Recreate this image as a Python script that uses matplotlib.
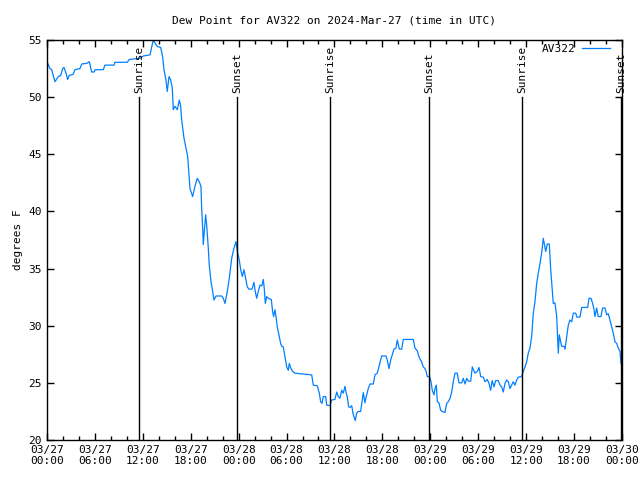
import matplotlib
matplotlib.use("Agg")
import matplotlib.pyplot as plt
import matplotlib.dates as mdates
import numpy as np
import pandas as pd

# hours after 2024-03-27 00:00 UTC
hours = [0.0, 0.38, 0.59, 1.0, 1.42, 1.72, 1.97, 2.13, 2.38, 2.59, 2.79, 3.29, 3.51, 4.13, 4.35, 4.97,
         5.3, 5.6, 5.89, 6.01, 7.05, 7.26, 8.39, 8.52, 10.06, 10.31, 11.65, 12.06, 12.9, 13.31, 13.74,
         13.94, 14.24, 14.49, 14.65, 14.9, 15.06, 15.28, 15.49, 15.69, 15.82, 16.03, 16.32, 16.57,
         16.74, 16.87, 17.16, 17.37, 17.62, 17.78, 17.91, 18.24, 18.53, 18.82, 19.07, 19.28, 19.37,
         19.5, 19.57, 19.7, 19.87, 20.0, 20.2, 20.32, 20.54, 20.75, 20.91, 21.16, 21.88, 22.08, 22.29,
         22.58, 22.83, 23.13, 23.42, 23.67, 23.83, 24.08, 24.26, 24.46, 24.67, 24.88, 25.08, 25.3,
         25.67, 25.92, 26.08, 26.26, 26.46, 26.67, 26.92, 27.09, 27.21, 27.34, 27.51, 27.71, 28.09,
         28.26, 28.39, 28.55, 28.68, 28.84, 29.05, 29.26, 29.39, 29.59, 29.8, 30.02, 30.22, 30.34,
         30.52, 30.77, 31.06, 31.68, 33.15, 33.35, 33.85, 34.1, 34.27, 34.44, 34.6, 34.9, 35.03,
         35.44, 35.65, 36.06, 36.28, 36.48, 36.69, 36.9, 37.1, 37.32, 37.44, 37.6, 37.78, 37.94,
         38.16, 38.36, 38.61, 38.78, 38.98, 39.28, 39.48, 39.61, 39.82, 40.03, 40.23, 40.45, 40.86,
         41.07, 41.36, 41.61, 41.79, 41.91, 42.45, 42.61, 42.83, 43.04, 43.29, 43.45, 43.7, 43.87,
         44.12, 44.42, 44.62, 45.87, 46.08, 46.37, 46.62, 46.92, 47.12, 47.33, 47.46, 47.62, 47.92,
         48.09, 48.25, 48.46, 48.59, 48.75, 48.88, 49.09, 49.3, 49.5, 49.84, 50.05, 50.25, 50.47,
         50.68, 50.88, 51.09, 51.38, 51.59, 51.93, 52.13, 52.35, 52.56, 52.76, 53.06, 53.26, 53.43,
         53.6, 53.88, 54.1, 54.31, 54.64, 54.85, 55.14, 55.35, 55.56, 55.76, 55.98, 56.19, 56.52,
         56.73, 56.94, 57.14, 57.35, 57.56, 57.77, 57.98, 58.19, 58.39, 58.6, 58.82, 59.02, 59.44,
         59.64, 59.86, 60.07, 60.27, 60.48, 60.69, 60.9, 61.11, 61.32, 61.52, 61.74, 61.95, 62.15,
         62.27, 62.45, 62.65, 62.9, 63.08, 63.28, 63.4, 63.61, 63.83, 63.95, 64.03, 64.15, 64.33,
         64.45, 64.74, 64.87, 65.08, 65.28, 65.49, 65.71, 65.91, 66.2, 66.37, 66.74, 66.96, 67.71,
         67.87, 68.12, 68.33, 68.5, 68.62, 68.83, 69.03, 69.37, 69.58, 69.87, 70.09, 70.29, 70.5,
         70.72, 70.91, 71.13, 71.34, 71.54, 71.75, 71.88]

dewpoint = [53.1, 52.5, 52.4, 51.35, 51.8, 51.9, 52.5, 52.6, 52.1, 51.55, 51.9, 52.0, 52.4, 52.5, 52.9,
            52.95, 53.1, 52.2, 52.2, 52.4, 52.4, 52.8, 52.8, 53.05, 53.05, 53.3, 53.4, 53.6, 53.7, 55.0,
            54.5, 54.4, 54.35, 53.5, 52.4, 51.5, 50.5, 51.8, 51.5, 50.8, 48.9, 49.2, 48.9, 49.75, 49.2,
            48.0, 46.4, 45.65, 44.8, 43.2, 42.0, 41.3, 42.2, 42.9, 42.6, 42.2, 40.3, 38.5, 37.1, 38.2,
            39.7, 38.8, 36.8, 35.3, 33.85, 33.0, 32.25, 32.6, 32.6, 32.4, 31.95, 33.0, 34.15, 35.9,
            36.8, 37.35, 36.55, 35.75, 34.9, 34.3, 34.9, 34.15, 33.4, 33.2, 33.2, 33.8, 33.0, 32.4,
            33.0, 33.55, 33.5, 34.05, 33.25, 31.95, 32.55, 32.4, 32.3, 31.2, 30.8, 31.4, 30.8, 29.9,
            29.2, 28.45, 28.2, 28.15, 27.3, 26.4, 26.1, 26.7, 26.3, 26.0, 25.85, 25.8, 25.7, 24.8,
            24.75, 24.1, 23.35, 23.2, 23.8, 23.8, 23.05, 23.0, 23.5, 23.55, 24.2, 23.8, 23.65, 24.35,
            24.1, 24.7, 24.2, 23.8, 22.9, 22.85, 23.0, 22.2, 21.7, 22.35, 22.5, 22.5, 23.5, 24.15,
            23.25, 23.95, 24.5, 24.9, 24.9, 25.7, 25.85, 26.55, 27.05, 27.35, 27.35, 27.0, 26.25,
            27.0, 27.6, 27.95, 28.05, 28.75, 27.95, 27.95, 28.8, 28.8, 28.05, 27.8, 27.2, 26.85, 26.4,
            26.25, 26.05, 25.55, 25.55, 25.1, 24.35, 23.95, 24.5, 24.8, 23.35, 23.25, 22.6, 22.5,
            22.4, 23.2, 23.35, 23.65, 24.2, 25.1, 25.85, 25.85, 25.0, 25.0, 25.4, 24.9, 25.4, 25.15,
            25.15, 26.4, 26.1, 25.85, 26.0, 26.35, 25.55, 25.5, 25.1, 25.3, 24.95, 24.35, 25.2, 24.65,
            25.2, 25.2, 24.8, 24.65, 24.2, 24.95, 25.25, 25.1, 24.5, 24.8, 25.1, 24.8, 25.25, 25.5,
            25.55, 26.0, 26.4, 26.85, 27.6, 28.05, 29.05, 31.1, 32.1, 33.7, 34.6, 35.45, 36.4, 37.65,
            37.2, 36.5, 37.15, 37.15, 34.9, 33.1, 31.95, 32.0, 30.8, 28.75, 27.6, 29.2, 28.6, 28.2,
            28.2, 27.95, 29.05, 30.05, 30.5, 30.35, 31.1, 31.1, 30.75, 30.75, 31.6, 31.6, 32.4, 32.4,
            31.95, 31.4, 30.8, 31.55, 30.8, 30.8, 31.55, 31.55, 30.95, 31.05, 30.5, 29.9, 29.35, 28.6,
            28.45, 28.05, 27.75, 26.7]

event_hours = [11.52, 23.79, 35.44, 47.83, 59.48, 71.88]
event_names = ["Sunrise", "Sunset", "Sunrise", "Sunset", "Sunrise", "Sunset"]

start = pd.Timestamp("2024-03-27 00:00")
times = start + pd.to_timedelta(hours, unit="h")
event_times = start + pd.to_timedelta(event_hours, unit="h")

plt.rcParams["font.family"] = "DejaVu Sans Mono"

fig = plt.figure(figsize=(6.4, 4.8), dpi=100)
ax = fig.add_axes([0.0734, 0.0833, 0.8984, 0.8334])

ax.plot(times, dewpoint, color="#0080ff", linewidth=0.9, label="AV322")

# sunrise / sunset markers
for t, name in zip(event_times, event_names):
    ax.plot([t, t], [20, 50], color="black", linewidth=1.0)
    ax.text(t, 50.35, name, rotation=90, ha="center", va="bottom", fontsize=8)

ax.set_xlim(start, start + pd.Timedelta(hours=72))
ax.set_ylim(20, 55)
ax.set_yticks(np.arange(20, 56, 5))

ax.xaxis.set_major_locator(mdates.HourLocator(byhour=[0, 6, 12, 18]))
ax.xaxis.set_minor_locator(mdates.HourLocator(byhour=range(0, 24, 2)))
ax.xaxis.set_major_formatter(mdates.DateFormatter("%m/%d\n%H:%M"))

ax.tick_params(axis="both", which="both", direction="in", top=True, right=True, labelsize=8)
ax.tick_params(axis="both", which="major", length=5, width=1)
ax.tick_params(axis="x", which="minor", length=3, width=1)
for s in ax.spines.values():
    s.set_linewidth(1)

ax.set_ylabel("degrees F", fontsize=8)
ax.set_title("Dew Point for AV322 on 2024-Mar-27 (time in UTC)", fontsize=8, pad=12)
ax.legend(loc="upper right", frameon=False, fontsize=8, handlelength=2.6, handletextpad=0.5,
          markerfirst=False, borderaxespad=0, borderpad=0, bbox_to_anchor=(0.98, 0.99))

fig.savefig("out.png", dpi=100)
